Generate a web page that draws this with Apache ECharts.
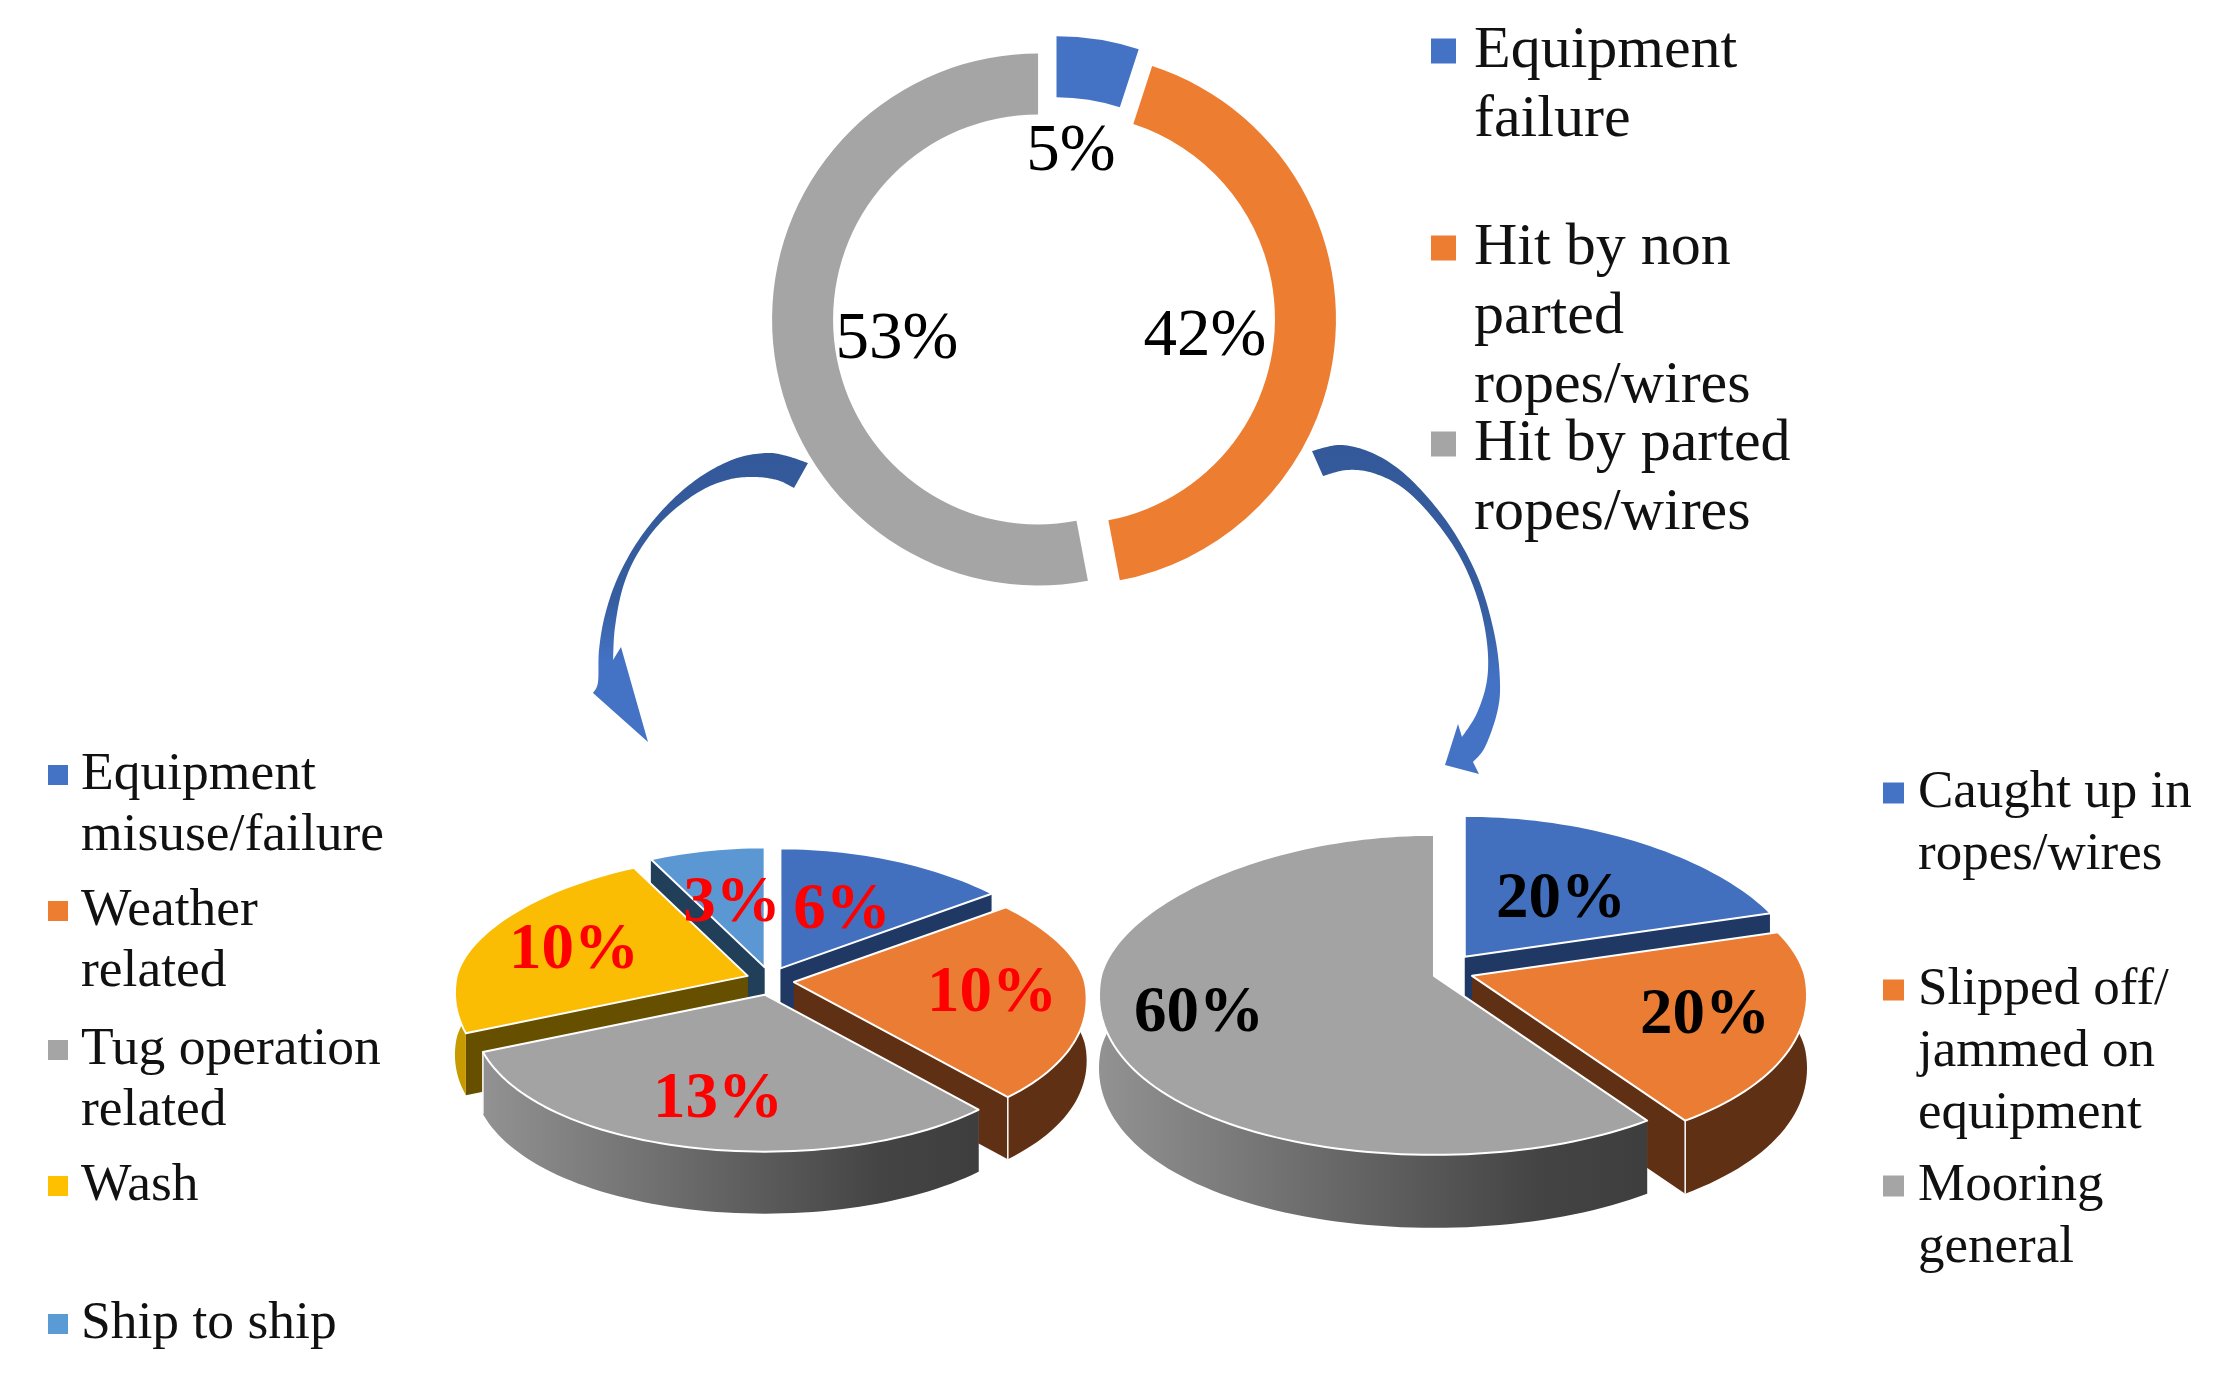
<!DOCTYPE html>
<html>
<head>
<meta charset="utf-8">
<title>Accident causes</title>
<style>
  html, body { margin: 0; padding: 0; background: #fff; }
  #main { width: 2233px; height: 1375px; }
</style>
<script src="https://cdn.jsdelivr.net/npm/echarts@6/dist/echarts.min.js"></script>
</head>
<body>
<div id="main"></div>
<script>
  // values (percent)
  const ringNames = ['Equipment\nfailure', 'Hit by non\nparted\nropes/wires', 'Hit by parted\nropes/wires']
  const ringValues = [5, 42, 53]
  const leftNames = ['Equipment\nmisuse/failure', 'Weather\nrelated', 'Tug operation\nrelated', 'Wash', 'Ship to ship']
  const leftValues = [6, 10, 13, 10, 3]
  const rightNames = ['Caught up in\nropes/wires', 'Slipped off/\njammed on\nequipment', 'Mooring\ngeneral']
  const rightValues = [20, 20, 60]

  const legendColors = ['#4472C4', '#ED7D31', '#A5A5A5', '#FFC000', '#5B9BD5']
  const topColors = ['#4270bf', '#ea7c33', '#a3a3a3', '#fbbc04', '#5b97d3']
  const sideColors = ['#203864', '#5f3013', '#6a6a6a', '#665000', '#223f5a']
  const rimColors = ['#203864', '#5f3013', null, '#c79a00', '#223f5a']

  const serif = '"Liberation Serif", "Times New Roman", serif'

  const chart = echarts.init(document.getElementById('main'))

  // slices come back ordered back to front, so the nearer ones paint over the others
  function pieSlices (values) {
    const total = values.reduce((a, b) => a + b, 0)
    let acc = 0
    const out = values.map((value, index) => {
      const from = acc / total * Math.PI * 2
      acc += value
      return { index, value, from, to: acc / total * Math.PI * 2 }
    })
    const depthKey = (s) => +Math.cos((s.from + s.to) / 2).toFixed(3)
    return out.sort((a, b) => depthKey(b) - depthKey(a) || a.index - b.index)
  }

  function tiltedPie (name, values, geo, labelPos, labelColor) {
    const slices = pieSlices(values)
    const project = (apex, a) => {
      const u = Math.sin(a)
      const v = Math.cos(a)
      return [
        apex[0] + geo.rx * u * (1 - geo.skew * v),
        apex[1] - (v > 0 ? geo.ryBack : geo.ryFront) * v
      ]
    }
    return {
      type: 'custom',
      name: name,
      coordinateSystem: 'none',
      silent: true,
      animation: false,
      data: slices.map((s) => s.value),
      renderItem (params) {
        const s = slices[params.dataIndex]
        const mid = (s.from + s.to) / 2
        const apex = [geo.cx + geo.ex * Math.sin(mid), geo.cy - geo.ey * Math.cos(mid)]
        const steps = Math.ceil((s.to - s.from) / 0.03)
        const arc = []
        for (let i = 0; i <= steps; i++) {
          arc.push(project(apex, s.from + (s.to - s.from) * i / steps))
        }
        const down = (p) => [p[0], p[1] + geo.depth]
        const first = arc[0]
        const last = arc[arc.length - 1]
        const rim = rimColors[s.index] || new echarts.graphic.LinearGradient(0, 0, 1, 0, [
          { offset: 0, color: '#929292' },
          { offset: 0.8, color: '#444444' },
          { offset: 1, color: '#3e3e3e' }
        ])
        const side = sideColors[s.index]
        return {
          type: 'group',
          children: [
            { type: 'polygon', shape: { points: [apex, first, down(first), down(apex)] }, style: { fill: side } },
            { type: 'polygon', shape: { points: [apex, last, down(last), down(apex)] }, style: { fill: side } },
            { type: 'polygon', shape: { points: arc.concat(arc.map(down).reverse()) }, style: { fill: rim } },
            { type: 'line', shape: { x1: last[0], y1: last[1], x2: last[0], y2: last[1] + geo.depth }, style: { stroke: '#fff', lineWidth: 1.5 } },
            {
              type: 'polygon',
              shape: { points: [apex].concat(arc) },
              style: { fill: topColors[s.index], stroke: '#fff', lineWidth: 2, lineJoin: 'round' }
            },
            {
              type: 'text',
              z2: 100,
              style: {
                text: s.value + '%',
                x: labelPos[s.index][0],
                y: labelPos[s.index][1],
                fill: labelColor,
                fontFamily: serif,
                fontWeight: 'bold',
                fontSize: 65,
                align: 'center',
                verticalAlign: 'middle'
              }
            }
          ]
        }
      }
    }
  }

  // legend entries sit on their own uneven pitch, hence per-entry placement
  function legendBlock (names, colors, opt) {
    const items = []
    names.forEach((name, i) => {
      const y = opt.firstLineY[i]
      items.push({
        type: 'rect',
        shape: { x: opt.markerX, y: y - opt.marker / 2, width: opt.marker, height: opt.marker },
        style: { fill: colors[i] }
      })
      items.push({
        type: 'text',
        style: {
          text: name,
          x: opt.textX,
          y: y - opt.lineHeight / 2,
          fill: '#111',
          fontFamily: serif,
          fontSize: opt.fontSize,
          lineHeight: opt.lineHeight,
          verticalAlign: 'top'
        }
      })
    })
    return items
  }

  // smooth run through a few hand-read points, for the curved arrows
  function spline (pts) {
    const out = []
    for (let i = 0; i < pts.length - 1; i++) {
      const p0 = pts[Math.max(i - 1, 0)]
      const p1 = pts[i]
      const p2 = pts[i + 1]
      const p3 = pts[Math.min(i + 2, pts.length - 1)]
      for (let k = 0; k < 12; k++) {
        const t = k / 12
        const f = (a, b, c, d) => 0.5 * (2 * b + (c - a) * t + (2 * a - 5 * b + 4 * c - d) * t * t + (3 * b - a - 3 * c + d) * t * t * t)
        out.push([f(p0[0], p1[0], p2[0], p3[0]), f(p0[1], p1[1], p2[1], p3[1])])
      }
    }
    out.push(pts[pts.length - 1])
    return out
  }

  function arrow (outer, head, inner) {
    return {
      type: 'polygon',
      shape: { points: spline(outer).concat(head, spline(inner)) },
      style: {
        fill: new echarts.graphic.LinearGradient(0, 0, 0, 1, [
          { offset: 0, color: '#34599a' },
          { offset: 0.5, color: '#355d9f' },
          { offset: 0.72, color: '#4472c4' },
          { offset: 1, color: '#4472c4' }
        ])
      }
    }
  }

  const leftArrow = arrow(
    [[808, 463], [787, 456], [767, 453], [737, 458], [703, 475], [670, 502], [640, 538], [618, 577], [605, 615], [599, 650], [598, 682], [593, 693]],
    [[648, 742], [621, 647]],
    [[613, 660], [615, 627], [623, 587], [638, 553], [663, 520], [697, 493], [727, 480], [753, 477], [777, 480], [794, 488]]
  )
  const rightArrow = arrow(
    [[1312, 451], [1340, 445], [1370, 452], [1400, 470], [1430, 500], [1457, 537], [1480, 583], [1495, 637], [1500, 683], [1497, 713], [1485, 747], [1473, 762]],
    [[1479, 774], [1445, 765], [1458, 724]],
    [[1462, 737], [1477, 713], [1487, 680], [1487, 643], [1478, 600], [1460, 557], [1433, 518], [1403, 488], [1373, 473], [1347, 470], [1323, 476]]
  )

  const ringLabelPos = [[1071, 152], [1205, 337], [897, 340]]

  const ringLabels = ringValues.map((value, i) => ({
    type: 'text',
    z: 10,
    style: {
      text: value + '%',
      x: ringLabelPos[i][0],
      y: ringLabelPos[i][1],
      fill: '#000',
      fontFamily: serif,
      fontSize: 67,
      align: 'center',
      verticalAlign: 'middle'
    }
  }))

  chart.setOption({
    backgroundColor: '#fff',
    animation: false,
    tooltip: { show: false },
    graphic: [
      leftArrow,
      rightArrow
    ].concat(
      ringLabels,
      legendBlock(ringNames, legendColors, { firstLineY: [51, 248, 444], markerX: 1431, marker: 25, textX: 1474, fontSize: 60, lineHeight: 69 }),
      legendBlock(leftNames, legendColors, { firstLineY: [775, 911, 1050, 1186, 1324], markerX: 48, marker: 20, textX: 81, fontSize: 53.5, lineHeight: 61 }),
      legendBlock(rightNames, legendColors, { firstLineY: [793, 990, 1186], markerX: 1883, marker: 21, textX: 1918, fontSize: 53, lineHeight: 62 })
    ),
    series: [
      {
        type: 'pie',
        name: 'Overall',
        center: [1054, 318],
        radius: [205, 266],
        startAngle: 90,
        silent: true,
        selectedMode: 'multiple',
        selectedOffset: 16,
        data: ringValues.map((value, i) => ({
          name: ringNames[i],
          value: value,
          selected: true,
          itemStyle: { color: legendColors[i] }
        })),
        label: { show: false },
        labelLine: { show: false }
      },
      tiltedPie('Hit by non parted ropes/wires', leftValues,
        { cx: 770, cy: 981, ex: 24, ey: 14, rx: 291, ryBack: 120, ryFront: 157, depth: 62, skew: 0.11 },
        [[842, 911], [992, 994], [718, 1100], [574, 951], [732, 904]], '#ff0000'),
      tiltedPie('Hit by parted ropes/wires', rightValues,
        { cx: 1453, cy: 970.6, ex: 20, ey: 17, rx: 333, ryBack: 141, ryFront: 179, depth: 73, skew: 0.11 },
        [[1561, 900], [1705, 1016], [1199, 1014]], '#000')
    ]
  })
</script>
</body>
</html>
